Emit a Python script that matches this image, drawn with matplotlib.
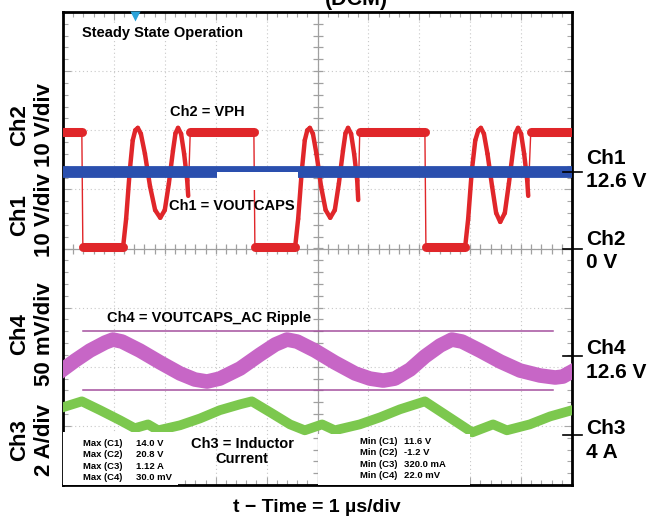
import numpy as np
import matplotlib
matplotlib.use("Agg")
import matplotlib.pyplot as plt
from matplotlib.collections import LineCollection
from matplotlib.patches import Rectangle
from matplotlib.ticker import MultipleLocator

plt.rcParams['font.family'] = ['Liberation Sans', 'DejaVu Sans']
plt.rcParams['font.weight'] = 'bold'

# Ch2 = VPH, volts
vph_t = [0, 0.37, 0.39, 1.18, 1.24, 1.31, 1.37, 1.42, 1.47, 1.53, 1.61, 1.71, 1.81, 1.91,
         2.00, 2.08, 2.16, 2.21, 2.26, 2.32, 2.38, 2.44, 2.46, 2.50,
         3.75, 3.77, 4.56, 4.62, 4.69, 4.75, 4.80, 4.85, 4.91, 4.98, 5.07, 5.16, 5.25,
         5.34, 5.42, 5.50, 5.55, 5.60, 5.66, 5.72, 5.78, 5.80, 5.83,
         7.11, 7.13, 7.90, 7.96, 8.03, 8.10, 8.16, 8.21, 8.27, 8.34, 8.43, 8.51, 8.59,
         8.68, 8.76, 8.84, 8.89, 8.94, 9.00, 9.06, 9.12, 9.14, 9.19, 10.0]
vph_v = [19.7, 19.7, 0.2, 0.2, 5.0, 13.0, 18.3, 20.0, 20.4, 19.4, 16.0, 10.5, 6.5, 5.2,
         6.5, 11.0, 16.5, 19.5, 20.4, 19.4, 16.0, 11.5, 8.9, 19.7,
         19.7, 0.2, 0.2, 5.0, 13.0, 18.3, 20.0, 20.4, 19.4, 16.0, 10.5, 6.5, 5.2,
         6.5, 11.0, 16.5, 19.5, 20.4, 19.4, 16.0, 11.5, 8.2, 19.7,
         19.7, 0.2, 0.2, 5.0, 13.0, 18.3, 20.0, 20.4, 19.4, 16.0, 10.5, 6.0, 4.5,
         6.0, 11.0, 16.5, 19.5, 20.4, 19.4, 16.0, 11.5, 8.9, 19.7, 19.7]

# Ch1 = VOUTCAPS, volts
vout_t = [0, 10.0]
vout_v = [12.6, 12.6]

# Ch4 = VOUTCAPS AC ripple, mV around the 12.6 V marker
ripple_t = [0, 0.24, 0.53, 0.83, 0.98, 1.16, 1.51, 1.91, 2.30, 2.59, 2.83, 3.08, 3.48,
            3.87, 4.17, 4.40, 4.60, 4.95, 5.34, 5.74, 6.03, 6.29, 6.52, 6.82, 7.11,
            7.41, 7.64, 7.84, 8.19, 8.59, 8.98, 9.37, 9.67, 9.82, 10.0]
ripple_mv = [-11.8, -4.2, 4.2, 11.0, 13.5, 11.8, 4.2, -5.9, -15.2, -20.3, -22.0, -19.5, -11.0,
             0.8, 9.3, 13.5, 11.8, 4.2, -5.9, -15.2, -19.5, -21.2, -19.5, -11.8, -0.8,
             8.5, 13.5, 11.8, 4.2, -5.1, -12.7, -16.9, -18.6, -17.8, -13.5]
cursor_mv = [20.6, -29.2]
cursor_t = [0.39, 9.63]

# Ch3 = inductor current, amps
il_t = [0, 0.37, 0.73, 1.12, 1.41, 1.67, 1.87, 2.30, 2.69, 3.08, 3.48, 3.71, 4.07, 4.46,
        4.75, 5.09, 5.34, 5.83, 6.23, 6.62, 7.11, 7.50, 8.04, 8.45, 8.72, 9.17, 9.57, 10.0]
il_a = [4.95, 5.15, 4.85, 4.51, 4.24, 4.37, 4.17, 4.34, 4.57, 4.85, 5.05, 5.15, 4.78, 4.37,
        4.17, 4.37, 4.17, 4.37, 4.61, 4.88, 5.15, 4.71, 4.10, 4.37, 4.17, 4.37, 4.64, 4.85]

max_labels = ["Max (C1)", "Max (C2)", "Max (C3)", "Max (C4)"]
max_values = ["14.0 V", "20.8 V", "1.12 A", "30.0 mV"]
min_labels = ["Min (C1)", "Min (C2)", "Min (C3)", "Min (C4)"]
min_values = ["11.6 V", "-1.2 V", "320.0 mA", "22.0 mV"]

# channel scale (units/div) and marker position (div)
CH1_SCALE, CH1_REF, CH1_POS = 10.0, 12.6, 1.30
CH2_SCALE, CH2_REF, CH2_POS = 10.0, 0.0, 0.0
CH4_SCALE, CH4_POS = 50.0, -1.81
CH3_SCALE, CH3_REF, CH3_POS = 2.0, 4.0, -3.16

RED = '#e0262a'
BLUE = '#2a4fae'
PURPLE = '#c766c6'
CURSOR = '#a4509e'
GREEN = '#7cc84e'


def trace(ax, t, y, color, thick, thin, flat=None, z=3):
    """Scope trace: thin on fast edges, thick (noisy band) elsewhere."""
    pts = np.column_stack([t, y])
    segs = np.stack([pts[:-1], pts[1:]], axis=1)
    dt = np.diff(t)
    dy = np.diff(y)
    slope = np.abs(dy) / np.maximum(dt, 1e-6)
    widths = np.full(len(segs), thick)
    widths[slope > 20] = thin
    if flat is not None:
        widths[(dy == 0) & (dt > 0.1)] = flat
    lc = LineCollection(segs, colors=color, linewidths=widths, capstyle='round', zorder=z)
    ax.add_collection(lc)


def px(x, y):
    return x / 650, 1 - y / 521


fig = plt.figure(figsize=(6.5, 5.21), dpi=100)
ax = fig.add_axes([63 / 650, 36 / 521, 509 / 650, 473 / 521])
ax.set_xlim(0, 10)
ax.set_ylim(-4, 4)

### GRID / GRATICULE
ax.xaxis.set_major_locator(MultipleLocator(1))
ax.xaxis.set_minor_locator(MultipleLocator(0.2))
ax.yaxis.set_major_locator(MultipleLocator(1))
ax.yaxis.set_minor_locator(MultipleLocator(0.2))
ax.tick_params(which='both', direction='in', top=True, right=True, labelbottom=False,
               labelleft=False, color='#a8a8a8', width=0.8)
ax.tick_params(which='major', length=6)
ax.tick_params(which='minor', length=3.5)
ax.grid(which='major', color='#c8c8c8', lw=0.8, ls=(0, (1, 2.5)))
ax.set_axisbelow(True)
for sp in ax.spines.values():
    sp.set_linewidth(2)
    sp.set_color('black')

ax.axhline(0, color='#a0a0a0', lw=0.9, zorder=1)
ax.axvline(5, color='#a0a0a0', lw=0.9, zorder=1)
ax.plot(np.arange(0, 10.01, 0.2), np.zeros(51), ls='none', marker='|', ms=7,
        mew=0.9, color='#a0a0a0', zorder=1)
ax.plot(np.full(41, 5.0), np.arange(-4, 4.01, 0.2), ls='none', marker='_', ms=7,
        mew=0.9, color='#a0a0a0', zorder=1)

### TRACES
y_vph = (np.array(vph_v) - CH2_REF) / CH2_SCALE + CH2_POS
trace(ax, np.array(vph_t), y_vph, RED, thick=3.2, thin=1.0, flat=6.5, z=3)

y_vout = (np.array(vout_v) - CH1_REF) / CH1_SCALE + CH1_POS
ax.plot(vout_t, y_vout, color=BLUE, lw=8.5, solid_capstyle='butt', zorder=4)
ax.add_patch(Rectangle((3.03, 0.99), 1.59, 0.30, facecolor='white', edgecolor='none', zorder=4.5))

y_rip = np.array(ripple_mv) / CH4_SCALE + CH4_POS
ax.plot(ripple_t, y_rip, color=PURPLE, lw=10.5, solid_joinstyle='round', zorder=3)
for c in cursor_mv:
    ax.plot(cursor_t, [c / CH4_SCALE + CH4_POS] * 2, color=CURSOR, lw=1.1, zorder=3.5)

y_il = (np.array(il_a) - CH3_REF) / CH3_SCALE + CH3_POS
ax.plot(il_t, y_il, color=GREEN, lw=7, solid_joinstyle='round', zorder=3)

# measurement boxes hide the traces below them
ax.add_patch(Rectangle((0, -4), 2.26, 0.90, facecolor='white', edgecolor='none', zorder=5))
ax.add_patch(Rectangle((5.01, -4), 2.99, 0.86, facecolor='white', edgecolor='none', zorder=5))

# trigger marker
ax.plot([1.41], [3.93], marker='v', ms=7, color='#2aa3da', mec='none', zorder=6, clip_on=False)

### LABELS IN THE SCREEN
ax.text(0.37, 3.65, "Steady State Operation", fontsize=10.5, ha='left', va='center',
        zorder=6, bbox=dict(facecolor='white', edgecolor='none', pad=1))
ax.text(2.83, 2.31, "Ch2 = VPH", fontsize=10.5, ha='center', va='center', zorder=6)
ax.text(3.32, 0.72, "Ch1 = VOUTCAPS", fontsize=10.5, ha='center', va='center', zorder=6)
ax.text(2.87, -1.18, "Ch4 = VOUTCAPS_AC Ripple", fontsize=10.5, ha='center', va='center',
        zorder=6)
ax.text(3.52, -3.43, "Ch3 = Inductor\nCurrent", fontsize=10.5, ha='center', va='center',
        linespacing=1.05, zorder=6)

for i, (lab, val) in enumerate(zip(max_labels, max_values)):
    y = -3.29 - 0.195 * i
    ax.text(0.39, y, lab, fontsize=6.8, ha='left', va='center', zorder=6)
    ax.text(1.43, y, val, fontsize=6.8, ha='left', va='center', zorder=6)
for i, (lab, val) in enumerate(zip(min_labels, min_values)):
    y = -3.26 - 0.195 * i
    ax.text(5.83, y, lab, fontsize=6.8, ha='left', va='center', zorder=6)
    ax.text(6.70, y, val, fontsize=6.8, ha='left', va='center', zorder=6)

### CHANNEL MARKERS (right side)
right = [("Ch1", "12.6 V", CH1_POS, 158, 182),
         ("Ch2", "0 V", CH2_POS, 239, 263),
         ("Ch4", "12.6 V", CH4_POS, 348, 372),
         ("Ch3", "4 A", CH3_POS, 428, 452)]
for name, lvl, pos, y1, y2 in right:
    ax.plot([9.82, 10.2], [pos, pos], color='black', lw=1.2, clip_on=False, zorder=6)
    fig.text(*px(586, y1), name, fontsize=15, ha='left', va='center')
    fig.text(*px(586, y2), lvl, fontsize=15, ha='left', va='center')

### CHANNEL SCALES (left side)
left = [("Ch2", "10 V/div", 125),
        ("Ch1", "10 V/div", 215),
        ("Ch4", "50 mV/div", 334),
        ("Ch3", "2 A/div", 440)]
for name, scale, yc in left:
    fig.text(*px(20, yc), name, fontsize=16, rotation=90, ha='center', va='center')
    fig.text(*px(45, yc), scale, fontsize=16, rotation=90, ha='center', va='center')

fig.text(*px(317, 508), "t \u2212 Time = 1 \u00b5s/div", fontsize=14, ha='center', va='center')
# title is cropped at the top edge in the original
fig.text(*px(356, 5), "(DCM)", fontsize=15.5, ha='center', va='baseline')

fig.savefig("out.png", dpi=100)
